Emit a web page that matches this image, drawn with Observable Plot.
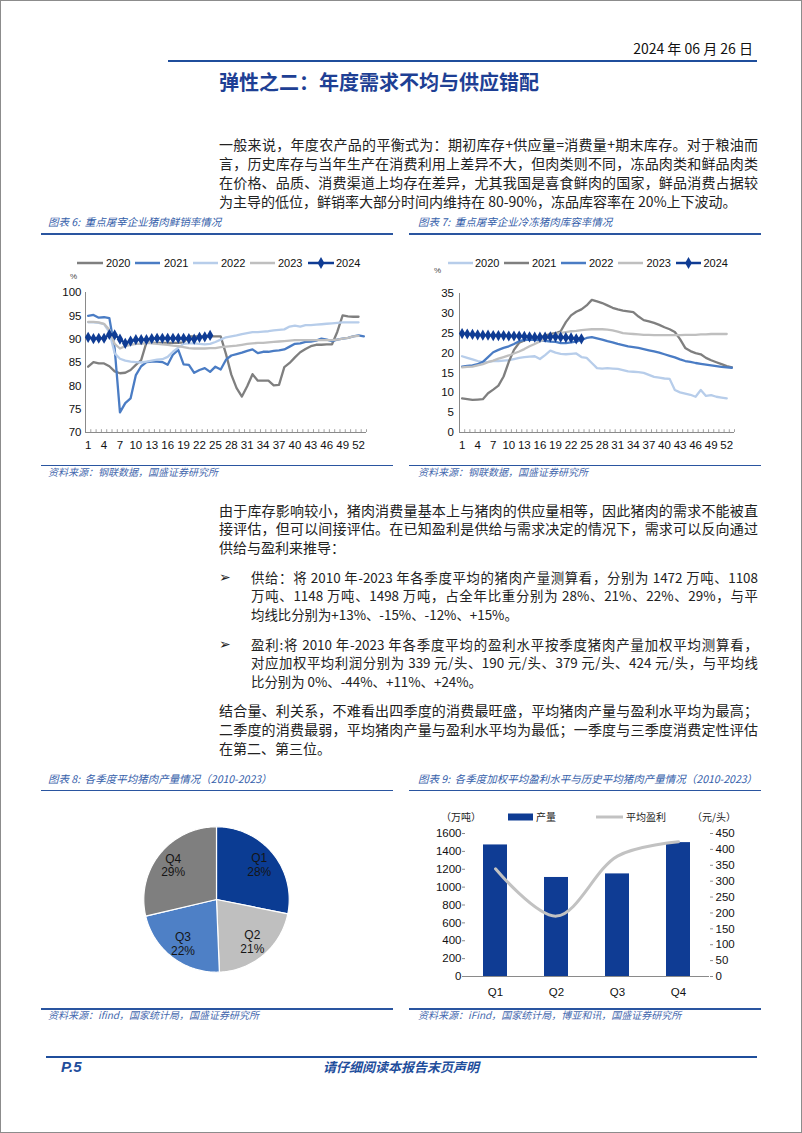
<!DOCTYPE html>
<html><head><meta charset="utf-8">
<script src="https://cdn.jsdelivr.net/npm/d3@7"></script>
<script src="https://cdn.jsdelivr.net/npm/@observablehq/plot@0.6"></script>
<style>
body{margin:0;background:#fff;}
#page{position:relative;width:802px;height:1133px;box-sizing:border-box;border:1px solid #8c8c8c;overflow:hidden;font-family:"Noto Sans CJK SC",sans-serif;background:#fff;}
.abs{position:absolute;white-space:nowrap;}
.tl{position:absolute;text-align:justify;text-align-last:justify;font-size:14px;line-height:19px;height:19px;color:#222;white-space:nowrap;}
.tl.last{text-align-last:left;}
.tl.sm{font-size:13.4px;}
.hdr{position:absolute;font-size:10.5px;font-style:italic;color:#3560AA;white-space:nowrap;line-height:14px;}
.src{position:absolute;font-size:10px;font-style:italic;color:#4669AE;white-space:nowrap;line-height:14px;}
.bar{position:absolute;background:#2A55A0;}
.chart{position:absolute;}
</style></head>
<body><div id="page"></div>
<script>
// ---------- DATA ----------
const years = ["2020","2021","2022","2023","2024"];
const weekTicks = d3.range(1, 53, 3);           // 1,4,...,52
const weekEdges = d3.range(0.5, 54, 1);         // category boundaries

// 图表6 鲜销率 (%)
const fresh2020 = [84.1,85.1,84.8,84.8,84.2,83.1,82.7,82.8,83.4,84.5,85.5,89.3,89.2,89.2,89.2,89.2,89.2,89.2,89.3,90.6,90.6,90.6,90.6,90.6,90.6,90.6,86.8,82.4,79.5,77.7,79.9,82.5,81.1,81.1,81.1,80.1,80.2,84.0,84.9,86.1,87.2,87.9,88.5,88.8,88.8,88.9,88.9,91.6,95.1,94.9,94.8,94.8];
const fresh2021 = [95.0,95.2,94.6,94.7,94.5,88.0,74.3,76.3,77.3,82.3,84.2,85.1,85.2,85.2,85.1,84.5,86.7,87.7,84.6,84.5,82.8,83.4,83.8,83.0,84.1,83.5,85.6,86.5,86.8,87.1,87.5,87.8,87.0,87.3,87.3,87.5,87.6,87.8,88.4,89.0,89.1,89.4,89.5,89.7,90.1,89.9,89.6,89.9,90.1,90.3,90.6,90.8,90.6];
const fresh2022 = [93.6,93.6,93.5,93.2,91.5,87.0,85.8,85.4,85.2,85.1,85.0,85.2,85.4,85.6,85.7,86.2,87.3,88.2,89.0,89.1,89.1,89.0,88.9,89.0,89.4,89.9,90.4,90.6,90.8,91.1,91.3,91.5,91.5,91.6,91.7,91.9,92.0,92.1,92.7,92.9,92.7,93.0,93.0,93.1,93.2,93.3,93.4,93.5,93.6,93.6,93.6,93.6];
const fresh2023 = [93.7,93.7,93.6,93.3,92.0,89.0,88.0,88.5,88.8,89.0,89.0,89.2,89.1,89.0,88.9,88.8,88.6,88.5,88.3,88.1,88.0,88.0,88.0,88.1,88.1,88.3,88.4,88.5,88.6,88.8,89.0,89.1,89.2,89.2,89.3,89.4,89.5,89.6,89.7,89.8,89.8,89.8,89.8,89.8,89.8,89.8,89.8,89.9,90.1,90.3,90.6,90.7];
const fresh2024 = [90.4,90.1,90.2,90.2,91.0,90.9,90.0,89.1,89.6,89.9,89.9,89.9,90.1,90.2,90.2,90.2,90.2,90.2,90.2,90.1,90.0,90.4,90.5,90.8];
const freshTicks = [70,75,80,85,90,95,100];

// 图表7 库容率 (%)
const cold2020 = [19.2,18.8,18.4,18.0,17.7,17.8,18.0,18.0,18.1,18.2,18.5,18.8,19.0,19.1,19.2,18.5,19.5,20.6,20.1,19.8,19.7,19.8,19.9,19.0,18.8,17.5,16.2,16.1,16.2,16.1,16.0,15.7,15.4,15.3,15.2,15.0,14.5,14.0,13.8,13.6,13.5,10.7,10.1,9.8,9.5,9.0,10.7,9.2,9.4,9.0,8.8,8.6];
const cold2021 = [8.6,8.4,8.2,8.3,8.4,9.9,10.8,11.8,14.1,17.8,20.8,22.6,23.2,23.5,23.7,24.0,24.4,24.8,25.0,25.5,27.8,29.5,30.4,31.0,32.0,33.4,33.0,32.6,32.0,31.4,31.0,30.7,30.5,30.3,29.2,28.3,28.0,27.6,27.1,26.5,26.0,25.3,23.5,21.3,20.5,20.0,19.7,18.8,18.2,17.7,17.2,16.7,16.4];
const cold2022 = [16.6,16.8,16.9,17.2,17.8,19.0,20.2,20.8,21.3,21.7,22.3,23.0,23.3,23.4,23.3,23.2,23.1,22.9,22.8,22.5,22.5,22.7,22.9,23.3,23.8,24.0,23.7,23.4,23.0,22.7,22.3,22.0,21.7,21.5,21.3,21.0,20.7,20.4,20.1,19.7,19.3,18.9,18.4,18.0,17.8,17.5,17.3,17.1,16.9,16.7,16.5,16.4,16.3];
const cold2023 = [16.4,16.5,16.6,16.9,17.2,17.7,18.1,18.6,19.0,19.4,19.9,20.4,21.0,21.7,22.3,22.9,23.5,24.2,24.8,25.1,25.3,25.5,25.6,25.8,25.9,26.0,26.0,26.0,25.9,25.7,25.4,25.0,24.9,24.8,24.7,24.6,24.6,24.5,24.5,24.5,24.5,24.5,24.5,24.6,24.6,24.6,24.7,24.7,24.8,24.8,24.8,24.8];
const cold2024 = [24.9,24.8,24.7,24.6,24.5,24.5,24.4,24.4,24.4,24.3,24.3,24.3,24.2,24.1,24.0,24.0,24.0,24.1,24.1,24.0,23.9,23.8,23.6,23.6];
const coldTicks = [0,5,10,15,20,25,30,35];

// 图表8/9 季度
const quarters = ["Q1","Q2","Q3","Q4"];
const output = [1472,1108,1148,1498];      // 万吨
const profit = [339,190,379,424];          // 元/头
const outputTicks = [0,200,400,600,800,1000,1200,1400,1600];
const profitTicks = [0,50,100,150,200,250,300,350,400,450];

// ---------- STYLE ----------
const C = {dgray:"#7F7F7F", mblue:"#4A7CC4", lblue:"#B7CDEA", lgray:"#BFBFBF", navy:"#0F3C94", axis:"#8A8A8A"};
const page = document.getElementById("page");
function el(tag, cls, css, html){const e=document.createElement(tag); if(cls) e.className=cls; Object.assign(e.style, css||{}); if(html!=null) e.innerHTML=html; page.appendChild(e); return e;}

// ---------- PAGE TEXT ----------
el("div","abs",{left:"600px",width:"152px",top:"38px",textAlign:"right",fontSize:"14px",lineHeight:"18px",color:"#111"},"2024 年 06 月 26 日");
el("div","bar",{left:"167px",width:"589px",top:"59px",height:"2px",background:"#1F4E9C"});
el("div","abs",{left:"218px",top:"68px",fontSize:"20px",lineHeight:"26px",fontWeight:"700",color:"#1E3F94"},"弹性之二：年度需求不均与供应错配");

function para(lines, left, right, centers, extra){
  lines.forEach((t,i)=>{
    el("div","tl"+(i===lines.length-1?" last":"")+(extra?" "+extra:""),{left:left+"px",width:(right-left)+"px",top:(centers[i]-9.5)+"px"},t);
  });
}
para(["一般来说，年度农产品的平衡式为：期初库存+供应量=消费量+期末库存。对于粮油而",
      "言，历史库存与当年生产在消费利用上差异不大，但肉类则不同，冻品肉类和鲜品肉类",
      "在价格、品质、消费渠道上均存在差异，尤其我国是喜食鲜肉的国家，鲜品消费占据较",
      "为主导的低位，鲜销率大部分时间内维持在 80-90%，冻品库容率在 20%上下波动。"],218,757,[143,162,181,200]);
para(["由于库存影响较小，猪肉消费量基本上与猪肉的供应量相等，因此猪肉的需求不能被直",
      "接评估，但可以间接评估。在已知盈利是供给与需求决定的情况下，需求可以反向通过",
      "供给与盈利来推导："],218,757,[509,527.5,546]);
el("div","abs",{left:"218px",top:"566px",fontSize:"14px",lineHeight:"19px",color:"#222"},"➢");
para(["供给：将 2010 年-2023 年各季度平均的猪肉产量测算看，分别为 1472 万吨、1108",
      "万吨、1148 万吨、1498 万吨，占全年比重分别为 28%、21%、22%、29%，与平",
      "均线比分别为+13%、-15%、-12%、+15%。"],250,757,[576,594.5,613],"sm");
el("div","abs",{left:"218px",top:"633px",fontSize:"14px",lineHeight:"19px",color:"#222"},"➢");
para(["盈利:将 2010 年-2023 年各季度平均的盈利水平按季度猪肉产量加权平均测算看，",
      "对应加权平均利润分别为 339 元/头、190 元/头、379 元/头、424 元/头，与平均线",
      "比分别为 0%、-44%、+11%、+24%。"],250,757,[643,661.5,680],"sm");
para(["结合量、利关系，不难看出四季度的消费最旺盛，平均猪肉产量与盈利水平均为最高；",
      "二季度的消费最弱，平均猪肉产量与盈利水平均为最低；一季度与三季度消费定性评估",
      "在第二、第三位。"],218,757,[709,728,747]);

// chart frames (titles, rules, sources)
function frame(x0,x1,hdrX,hdrY,lineY,srcLineY,srcY,title,src){
  el("div","hdr",{left:hdrX+"px",top:(hdrY-7)+"px"},title);
  el("div","bar",{left:x0+"px",width:(x1-x0)+"px",top:lineY+"px",height:"1.5px"});
  el("div","bar",{left:x0+"px",width:(x1-x0)+"px",top:srcLineY+"px",height:"1.5px"});
  el("div","src",{left:hdrX+"px",top:(srcY-7)+"px"},src);
}
frame(40,392,47,221,232,463.5,471,"图表 6:&nbsp; 重点屠宰企业猪肉鲜销率情况","资料来源：钢联数据，国盛证券研究所");
frame(408,760,417,221,232,463.5,471,"图表 7:&nbsp; 重点屠宰企业冷冻猪肉库容率情况","资料来源：钢联数据，国盛证券研究所");
frame(40,392,47,778,788.5,1007,1014,"图表 8:&nbsp; 各季度平均猪肉产量情况（2010-2023）","资料来源：ifind，国家统计局，国盛证券研究所");
frame(408,760,417,778,788.5,1007,1014,"图表 9:&nbsp; 各季度加权平均盈利水平与历史平均猪肉产量情况（2010-2023）","资料来源：iFind，国家统计局，博亚和讯，国盛证券研究所");

// footer
el("div","bar",{left:"45px",width:"711px",top:"1054.5px",height:"2.5px",background:"#1F4E9C"});
el("div","abs",{left:"60px",top:"1057px",fontSize:"15px",lineHeight:"18px",fontWeight:"700",fontStyle:"italic",color:"#1F4E9C",fontFamily:"'Liberation Sans',sans-serif"},"P.5");
el("div","abs",{left:"300px",width:"200px",textAlign:"center",top:"1057px",fontSize:"13px",lineHeight:"18px",fontWeight:"700",fontStyle:"italic",color:"#1F4E9C"},"请仔细阅读本报告末页声明");

// ---------- LEGENDS ----------
function legend(items, y){
  const svg = d3.select(page).append("svg").attr("class","chart")
    .style("left","0px").style("top",(y-10)+"px").attr("width",802).attr("height",20).style("overflow","visible");
  for(const it of items){
    svg.append("line").attr("x1",it.x1).attr("x2",it.x2).attr("y1",10).attr("y2",10)
      .attr("stroke",it.color).attr("stroke-width",it.w||2.5);
    if(it.marker) svg.append("path").attr("d",d3.symbol(d3.symbolDiamond, 40)()).attr("transform",`translate(${(it.x1+it.x2)/2},10)`).attr("fill",it.color);
    svg.append("text").attr("x",it.tx).attr("y",10).attr("dy","0.36em").attr("font-family","Liberation Sans, sans-serif").attr("font-size",11).attr("fill","#111").text(it.label);
  }
}

// ---------- WEEKLY LINE CHARTS ----------
function weekly(series, yDomain, yTicks, m, yPad){
  const span = yDomain[1]-yDomain[0];
  const marks = [
    Plot.ruleX(weekEdges, {x: d=>d, y1: yDomain[0], y2: yDomain[0]+span*0.02, stroke: C.axis, strokeWidth: 0.8}),
    Plot.ruleY([yDomain[0]], {stroke: C.axis}),
    Plot.ruleX([0.5], {stroke: C.axis}),
    Plot.axisY({ticks: yTicks, tickSize: 0, tickPadding: yPad, label: null}),
    Plot.axisX({ticks: weekTicks, tickSize: 0, tickPadding: 8, label: null})
  ];
  for(const s of series){
    const data = s.values.map((v,i)=>({week:i+1, value:v}));
    marks.push(Plot.line(data,{x:"week", y:"value", stroke:s.color, strokeWidth:2.3, strokeLinejoin:"round"}));
    if(s.marker) marks.push(Plot.dot(data,{x:"week", y:"value", symbol:"diamond", r:3.4, fill:s.color, stroke:"none"}));
  }
  return Plot.plot({
    width: 355, height: 180,
    marginLeft: m[0], marginRight: m[1], marginTop: m[2], marginBottom: m[3],
    x: {domain:[0.5,53.5]}, y: {domain:yDomain},
    style: {fontFamily:"Liberation Sans, sans-serif", fontSize:"11.5px", color:"#111", background:"transparent", overflow:"visible"},
    marks
  });
}
function place(node, left, top){ node.style.position="absolute"; node.style.left=left+"px"; node.style.top=top+"px"; page.appendChild(node); }

place(weekly([
  {values:fresh2020, color:C.dgray},
  {values:fresh2021, color:C.mblue},
  {values:fresh2022, color:C.lblue},
  {values:fresh2023, color:C.lgray},
  {values:fresh2024, color:C.navy, marker:true}
],[70,100],freshTicks,[44,30,11,29],4), 40, 280);
legend([
  {x1:76,x2:102,tx:105,color:C.dgray,label:"2020"},
  {x1:134,x2:159,tx:163,color:C.mblue,label:"2021"},
  {x1:192,x2:217,tx:220,color:C.lblue,label:"2022"},
  {x1:249,x2:274,tx:277,color:C.lgray,label:"2023"},
  {x1:307,x2:333,tx:335,color:C.navy,label:"2024",marker:true}
],262);
el("div","abs",{left:"69px",top:"271px",fontSize:"8px",lineHeight:"10px",color:"#444",fontFamily:"'Liberation Sans',sans-serif"},"%");

place(weekly([
  {values:cold2020, color:C.lblue},
  {values:cold2021, color:C.dgray},
  {values:cold2022, color:C.mblue},
  {values:cold2023, color:C.lgray},
  {values:cold2024, color:C.navy, marker:true}
],[0,35],coldTicks,[53,27,12,29],5.5), 405, 280);
legend([
  {x1:447,x2:472,tx:474,color:C.lblue,label:"2020"},
  {x1:503,x2:528,tx:531,color:C.dgray,label:"2021"},
  {x1:560,x2:585,tx:588,color:C.mblue,label:"2022"},
  {x1:617,x2:642,tx:645.5,color:C.lgray,label:"2023"},
  {x1:675,x2:700,tx:702.5,color:C.navy,label:"2024",marker:true}
],262);
el("div","abs",{left:"433px",top:"265px",fontSize:"8px",lineHeight:"10px",color:"#444",fontFamily:"'Liberation Sans',sans-serif"},"%");

// ---------- PIE (图表8) ----------
const pieColors = ["#0B3C93","#BFBFBF","#4E80C6","#7F7F7F"];
const total = d3.sum(output);
const arcs = d3.pie().sort(null).value(d=>d)(output);
const pieMarks = arcs.map((a,i)=>{
  const pts=[{x:0,y:0}];
  const n=90;
  for(let k=0;k<=n;k++){const t=a.startAngle+(a.endAngle-a.startAngle)*k/n; pts.push({x:Math.sin(t),y:Math.cos(t)});}
  pts.push({x:0,y:0});
  return Plot.line(pts,{x:"x",y:"y",fill:pieColors[i],stroke:"#fff",strokeWidth:1.2,strokeLinejoin:"round"});
});
const pieLabels = arcs.map((a,i)=>{const t=(a.startAngle+a.endAngle)/2; return {x:0.76*Math.sin(t), y:0.76*Math.cos(t), text: quarters[i]+"\n"+Math.round(output[i]/total*100)+"%"};});
pieMarks.push(Plot.text(pieLabels,{x:"x",y:"y",text:"text",fill:"#151515",fontSize:12,lineHeight:1.15}));
place(Plot.plot({
  width:160, height:160, margin:0,
  x:{domain:[-1.1,1.1], axis:null}, y:{domain:[-1.1,1.1], axis:null},
  style:{fontFamily:"Liberation Sans, sans-serif", background:"transparent", overflow:"visible"},
  marks: pieMarks
}), 135, 818);

// ---------- BAR + LINE (图表9) ----------
const qData = quarters.map((q,i)=>({q, output:output[i], profit:profit[i]}));
const k = 1600/450;
place(Plot.plot({
  width:355, height:205,
  marginLeft:59, marginRight:52, marginTop:32, marginBottom:30,
  x:{domain:quarters, paddingInner:0.6, paddingOuter:0.3},
  y:{domain:[0,1600]},
  style:{fontFamily:"Liberation Sans, sans-serif", fontSize:"11.5px", color:"#111", background:"transparent", overflow:"visible"},
  marks:[
    Plot.barY(qData,{x:"q", y:"output", fill:C.navy}),
    Plot.ruleY([0],{stroke:C.axis}),
    Plot.axisY({ticks:outputTicks, tickFormat:d=>String(d), tickSize:3, tickPadding:1, line:true, stroke:C.axis, label:null}),
    Plot.axisY({anchor:"right", ticks:profitTicks.map(v=>v*k), tickFormat:d=>String(Math.round(d/k)), tickSize:3, tickPadding:3, line:true, stroke:C.axis, label:null}),
    Plot.axisX({tickSize:0, tickPadding:11, label:null}),
    Plot.line(qData,{x:"q", y:d=>d.profit*k, curve:"catmull-rom", stroke:"#C2C2C2", strokeWidth:3})
  ]
}), 405, 800);
// legend / units for 图表9
const lg = d3.select(page).append("svg").attr("class","chart").style("left","0px").style("top","806px").attr("width",802).attr("height",20).style("overflow","visible");
lg.append("rect").attr("x",507).attr("y",6.5).attr("width",25).attr("height",7).attr("fill",C.navy);
lg.append("line").attr("x1",595).attr("x2",622).attr("y1",10).attr("y2",10).attr("stroke","#C2C2C2").attr("stroke-width",3);
const lt = (x,t,anchor)=>lg.append("text").attr("x",x).attr("y",10).attr("dy","0.36em").attr("text-anchor",anchor||"start").attr("font-family","Noto Sans CJK SC, sans-serif").attr("font-size",10).attr("fill","#222").text(t);
lt(535,"产量"); lt(625,"平均盈利"); lt(440,"（万吨）"); lt(691,"（元/头）");
</script></body></html>
